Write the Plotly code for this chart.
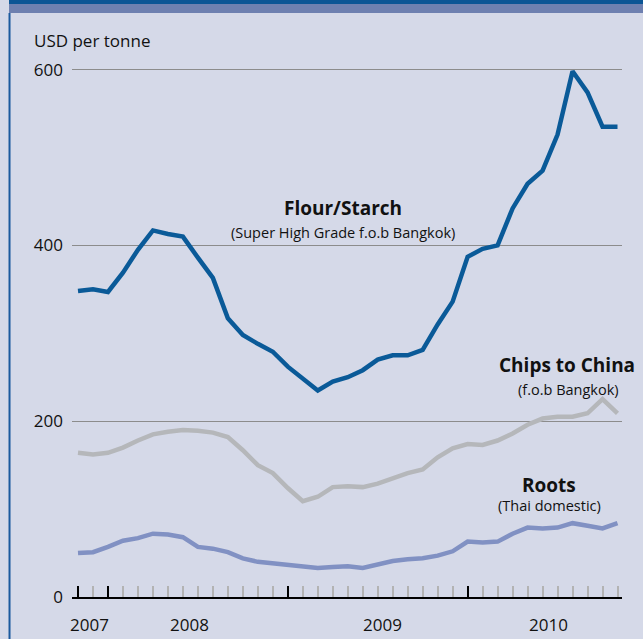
import plotly.graph_objects as go

# ---- data (monthly, Nov 2007 .. Nov 2010) ----
months = ["2007-11", "2007-12", "2008-01", "2008-02", "2008-03", "2008-04", "2008-05",
          "2008-06", "2008-07", "2008-08", "2008-09", "2008-10", "2008-11", "2008-12",
          "2009-01", "2009-02", "2009-03", "2009-04", "2009-05", "2009-06", "2009-07",
          "2009-08", "2009-09", "2009-10", "2009-11", "2009-12", "2010-01", "2010-02",
          "2010-03", "2010-04", "2010-05", "2010-06", "2010-07", "2010-08", "2010-09",
          "2010-10", "2010-11"]
flour_starch = [348, 350, 347, 369, 395, 417, 413, 410, 386, 363, 317, 298, 288, 279, 262,
                249, 235, 245, 250, 258, 270, 275, 275, 281, 310, 336, 387, 396, 400, 442,
                470, 485, 526, 598, 574, 535, 535]
chips_china = [164, 162, 164, 170, 178, 185, 188, 190, 189, 187, 182, 167, 150, 141, 124,
               109, 114, 125, 126, 125, 129, 135, 141, 145, 159, 169, 174, 173, 178, 186,
               196, 203, 205, 205, 209, 225, 209]
roots_thai = [50, 51, 57, 64, 67, 72, 71, 68, 57, 55, 51, 44, 40, 38, 37, 35, 33, 34, 35,
              33, 37, 41, 43, 44, 47, 52, 63, 62, 63, 72, 79, 78, 79, 84, 81, 78, 84]

year_labels = ["2007", "2008", "2009", "2010"]
year_label_pos = [0.75, 7.45, 20.3, 31.4]
year_start_idx = [0, 2, 14, 26]          # heavy (black) ticks
y_ticks = [0, 200, 400, 600]

series_titles = ["Flour/Starch", "Chips to China", "Roots"]
series_subtitles = ["(Super High Grade f.o.b Bangkok)", "(f.o.b Bangkok)", "(Thai domestic)"]
title_pos = [(17.65, 442), (32.6, 264), (31.45, 127)]
subtitle_pos = [(17.65, 415), (32.7, 236), (31.45, 104)]

# ---- styles ----
BG = "#D5D9E8"
FLOUR_C = "#0A5A98"
CHIPS_C = "#B5B7BA"
ROOTS_C = "#8191C3"
FONT = "Open Sans"
XRANGE = [-0.4, 36.3]

x = list(range(len(months)))

fig = go.Figure()
for vals, col, name in [(chips_china, CHIPS_C, "Chips to China"),
                        (roots_thai, ROOTS_C, "Roots"),
                        (flour_starch, FLOUR_C, "Flour/Starch")]:
    fig.add_trace(go.Scatter(x=x, y=vals, mode="lines", name=name,
                             customdata=months,
                             line=dict(color=col, width=4.5),
                             hovertemplate="%{customdata}: %{y}<extra>" + name + "</extra>"))
# invisible helper trace so the year-tick axis is rendered
fig.add_trace(go.Scatter(x=[x[0], x[-1]], y=[None, None], xaxis="x2", mode="lines",
                         showlegend=False, hoverinfo="skip"))

annotations = []
for t, (ax, ay) in zip(series_titles, title_pos):
    annotations.append(dict(x=ax, y=ay, xref="x", yref="y", text="<b>" + t + "</b>",
                            showarrow=False, font=dict(family=FONT, size=19, color="#111111")))
for t, (ax, ay) in zip(series_subtitles, subtitle_pos):
    annotations.append(dict(x=ax, y=ay, xref="x", yref="y", text=t,
                            showarrow=False, font=dict(family=FONT, size=14.5, color="#111111")))
for lab, pos in zip(year_labels, year_label_pos):
    annotations.append(dict(x=pos, y=0, xref="x", yref="paper", yanchor="middle",
                            yshift=-27, text=lab, showarrow=False,
                            font=dict(family=FONT, size=17, color="#111111")))
annotations.append(dict(x=0, y=1, xref="paper", yref="paper", xanchor="left",
                        yanchor="middle", xshift=-40, yshift=19, text="USD per tonne",
                        showarrow=False, font=dict(family=FONT, size=17, color="#111111")))

shapes = [
    dict(type="rect", xref="paper", yref="paper", x0=-0.1145, x1=1.05, y0=1.1022, y1=1.12,
         fillcolor="#0B5595", line=dict(width=0), layer="above"),
    dict(type="rect", xref="paper", yref="paper", x0=-0.1145, x1=1.05, y0=1.0855, y1=1.1022,
         fillcolor="#6E80B0", line=dict(width=0), layer="above"),
    dict(type="line", xref="paper", yref="paper", x0=-0.1136, x1=-0.1136, y0=-0.1, y1=1.0855,
         line=dict(color="#1B5A9E", width=2), layer="above"),
]

fig.update_layout(
    width=643, height=639,
    margin=dict(l=72, r=21, t=59, b=42),
    paper_bgcolor=BG, plot_bgcolor=BG,
    showlegend=False,
    annotations=annotations,
    shapes=shapes,
    font=dict(family=FONT, color="#111111"),
    xaxis=dict(
        range=XRANGE,
        showgrid=False, zeroline=False,
        showline=True, linecolor="#000000", linewidth=2,
        tickmode="linear", tick0=0, dtick=1, showticklabels=False,
        ticks="inside", ticklen=11, tickwidth=1.5, tickcolor="#B3B3B3",
    ),
    xaxis2=dict(
        range=XRANGE, overlaying="x", anchor="y", side="bottom",
        showgrid=False, zeroline=False, showline=False,
        tickmode="array", tickvals=year_start_idx, showticklabels=False,
        ticks="inside", ticklen=11, tickwidth=1.8, tickcolor="#000000",
    ),
    yaxis=dict(
        range=[0, 612],
        tickmode="array", tickvals=y_ticks,
        showgrid=True, gridcolor="#8C8C8C", gridwidth=1,
        zeroline=False, showline=False, ticks="",
        tickfont=dict(family=FONT, size=17, color="#111111"),
        ticklabelstandoff=8,
    ),
)

fig.write_html("out.html", config={"displayModeBar": False},
               post_script="document.body.style.margin='0';document.body.style.background='" + BG + "';")
